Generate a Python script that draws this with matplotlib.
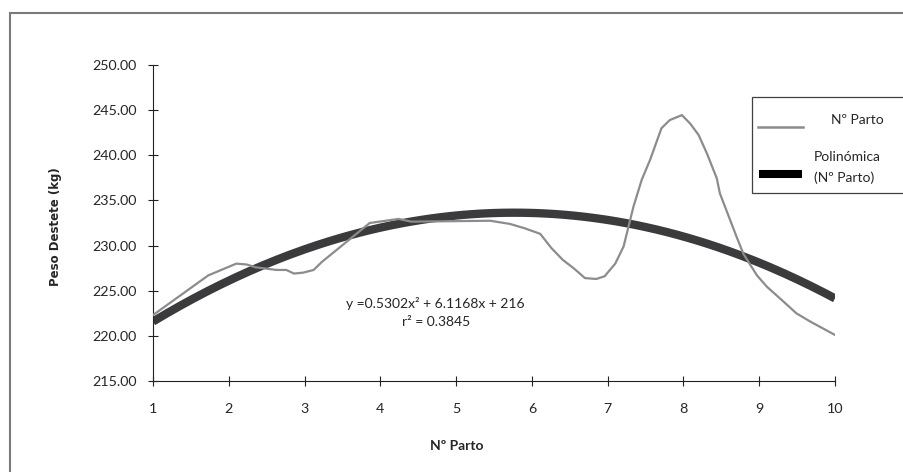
import numpy as np
import matplotlib
matplotlib.use("Agg")
import matplotlib.pyplot as plt
from matplotlib.patches import Rectangle
from matplotlib.lines import Line2D

plt.rcParams['font.family'] = ['Lato', 'DejaVu Sans']

# ---- data -------------------------------------------------------------------
parto = [1.00, 1.73, 2.10, 2.24, 2.35, 2.63, 2.76, 2.86, 2.98, 3.12, 3.23, 3.86,
         4.24, 4.41, 5.45, 5.71, 5.91, 6.11, 6.26, 6.41, 6.55, 6.70, 6.85, 6.96,
         7.10, 7.21, 7.34, 7.45, 7.56, 7.71, 7.82, 7.98, 8.09, 8.20, 8.31, 8.44,
         8.48, 8.59, 8.70, 8.79, 8.97, 9.10, 9.32, 9.49, 9.67, 10.00]
peso = [222.3, 226.7, 228.0, 227.9, 227.6, 227.3, 227.3, 226.9, 227.0, 227.3, 228.2, 232.5,
        232.95, 232.65, 232.75, 232.4, 231.9, 231.3, 229.7, 228.4, 227.5, 226.4, 226.3, 226.6,
        228.0, 229.9, 234.3, 237.3, 239.5, 243.0, 243.9, 244.45, 243.5, 242.25, 240.2, 237.45,
        235.8, 233.4, 231.0, 229.1, 226.7, 225.45, 223.8, 222.5, 221.6, 220.1]

# polynomial trend line coefficients as printed on the chart (a, b, c)
poly_coef = [-0.5302, 6.1168, 216]
eq_label = "y =0.5302x² + 6.1168x + 216"
r2_label = "r² = 0.3845"

xticks = list(range(1, 11))
yticks = [215, 220, 225, 230, 235, 240, 245, 250]
# ------------------------------------------------------------------------------

W, H = 904, 472
fig = plt.figure(figsize=(W / 100, H / 100), dpi=100)
ax = fig.add_axes([153 / W, 1 - 381 / H, (835 - 153) / W, (381 - 65) / H])

xs = np.linspace(1, 10, 200)
ax.plot(xs, np.polyval(poly_coef, xs), color='#3b3b3d', lw=6.0,
        solid_capstyle='butt', zorder=2)
ax.plot(parto, peso, color='#8c8c8c', lw=1.6, zorder=3)

ax.set_xlim(1, 10)
ax.set_ylim(215, 250)
ax.set_xticks(xticks)
ax.set_yticks(yticks)
ax.set_yticklabels([f"{v:.2f}" for v in yticks])
for s in ['top', 'right']:
    ax.spines[s].set_visible(False)
for s in ['left', 'bottom']:
    ax.spines[s].set_linewidth(0.8)
    ax.spines[s].set_color('#222222')
ax.tick_params(direction='inout', length=7.2, width=0.8, color='#222222',
               labelsize=10.3, labelcolor='#262626')
ax.tick_params(axis='x', pad=12)
ax.tick_params(axis='y', pad=8)

ax.text(4.73, 223.6, eq_label, ha='center', va='center', fontsize=10, color='#262626')
ax.text(4.73, 221.5, r2_label, ha='center', va='center', fontsize=10, color='#262626')

fig.text(457 / W, 1 - 446 / H, "Nº Parto", ha='center', va='center',
         fontsize=10, fontweight='bold', color='#262626')
fig.text(56 / W, 1 - 227 / H, "Peso Destete (kg)", ha='center', va='center',
         rotation=90, fontsize=8.5, fontweight='bold', color='#262626',
         family=['DejaVu Sans'])

# outer chart border (cut by the image edges)
fig.add_artist(Rectangle((10 / W, -0.1), 1.0, 1 - 13 / H + 0.1, transform=fig.transFigure,
                         fill=False, ec='#7a7a7a', lw=1.5))

# legend box
fig.add_artist(Rectangle((752 / W, 1 - 193 / H), 0.3, (193 - 97) / H, transform=fig.transFigure,
                         fill=True, fc='white', ec='#404040', lw=0.9, zorder=5))
fig.add_artist(Line2D([758 / W, 803 / W], [1 - 127 / H] * 2, transform=fig.transFigure,
                      color='#8c8c8c', lw=1.8, zorder=6))
fig.add_artist(Line2D([759 / W, 802 / W], [1 - 174 / H] * 2, transform=fig.transFigure,
                      color='black', lw=5.8, solid_capstyle='butt', zorder=6))
fig.text(831 / W, 1 - 120 / H, "Nº Parto", ha='left', va='center', fontsize=10,
         color='#262626', zorder=7)
fig.text(814 / W, 1 - 157 / H, "Polinómica", ha='left', va='center', fontsize=10,
         color='#262626', zorder=7)
fig.text(814 / W, 1 - 178 / H, "(Nº Parto)", ha='left', va='center', fontsize=10,
         color='#262626', zorder=7)

fig.savefig("out.png", dpi=100)
